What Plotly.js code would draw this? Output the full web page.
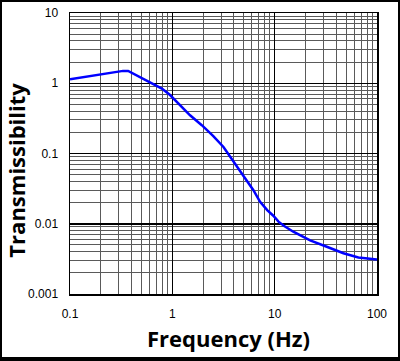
<!DOCTYPE html>
<html>
<head>
<meta charset="utf-8">
<script src="https://cdn.plot.ly/plotly-3.0.1.min.js"></script>
<style>
html,body{margin:0;padding:0;background:#fff;}
#wrap{position:relative;width:400px;height:361px;}
#chart{position:absolute;left:0;top:0;width:400px;height:361px;}
#frame{position:absolute;left:0;top:0;width:400px;height:361px;box-sizing:border-box;border:2px solid #000;border-bottom-width:4px;pointer-events:none;}
</style>
</head>
<body>
<div id="wrap"><div id="chart"></div><div id="frame"></div></div>
<script>
const freq = [0.1, 0.2, 0.33, 0.37, 0.5, 0.79, 0.95, 1.28, 1.49, 1.94, 2.5, 3.16, 3.95, 5.0, 6.2, 7.2, 8.5, 9.7, 10.9, 12.5, 15.2, 22.2, 32.3, 47, 65.8, 79, 100];
const trans = [1.14, 1.35, 1.5, 1.5, 1.2, 0.84, 0.68, 0.44, 0.35, 0.253, 0.178, 0.124, 0.076, 0.047, 0.030, 0.0205, 0.0155, 0.0130, 0.0107, 0.0092, 0.0077, 0.0058, 0.0047, 0.0038, 0.0033, 0.0032, 0.0031];
const xTickVals = [0.1, 1, 10, 100];
const xTickText = ['0.1', '1', '10', '100'];
const yTickVals = [0.001, 0.01, 0.1, 1, 10];
const yTickText = ['0.001', '0.01', '0.1', '1', '10'];

const tickFont = {family: 'Liberation Sans, Arial, sans-serif', size: 12, color: '#000'};
const titleFont = {family: 'Open Sans, sans-serif', size: 22, color: '#000', weight: 'bold'};

const data = [{
  x: freq, y: trans, type: 'scatter', mode: 'lines',
  line: {color: '#0000ff', width: 2.5, shape: 'linear'},
  hoverinfo: 'skip'
}];

const layout = {
  width: 400, height: 361,
  margin: {l: 70, r: 23, t: 13, b: 67},
  paper_bgcolor: '#fff', plot_bgcolor: '#fff',
  showlegend: false,
  xaxis: {
    type: 'log', range: [-1, 2],
    tickvals: xTickVals, ticktext: xTickText,
    showgrid: true, gridcolor: '#000', gridwidth: 1.5,
    showline: true, linecolor: '#000', linewidth: 1.5, mirror: true,
    ticks: '', zeroline: false,
    tickfont: tickFont,
    ticklabelstandoff: 8,
    minor: {dtick: 'D1', showgrid: true, gridcolor: '#5a5a5a', gridwidth: 1, ticks: ''}
  },
  yaxis: {
    type: 'log', range: [-3, 1],
    tickvals: yTickVals, ticktext: yTickText,
    showgrid: true, gridcolor: '#000', gridwidth: 1.5,
    showline: true, linecolor: '#000', linewidth: 1.5, mirror: true,
    ticks: '', zeroline: false,
    tickfont: tickFont,
    ticklabelstandoff: 8,
    minor: {dtick: 'D1', showgrid: true, gridcolor: '#5a5a5a', gridwidth: 1, ticks: ''}
  },
  annotations: [
    {text: '<b>Frequency (Hz)</b>', xref: 'paper', yref: 'paper', x: 0.515, y: -0.157, xanchor: 'center', yanchor: 'middle', showarrow: false, font: titleFont},
    {text: '<b>Transmissibility</b>', xref: 'paper', yref: 'paper', x: -0.175, y: 0.44, xanchor: 'center', yanchor: 'middle', textangle: -90, showarrow: false, font: titleFont}
  ]
};

Plotly.newPlot('chart', data, layout, {displayModeBar: false, staticPlot: true});
</script>
</body>
</html>
